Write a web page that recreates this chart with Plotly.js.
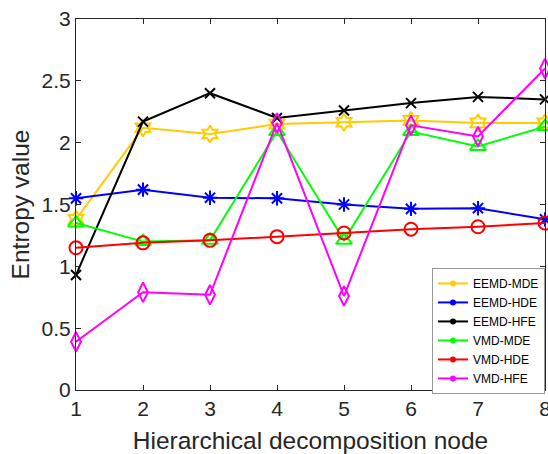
<!DOCTYPE html>
<html><head><meta charset="utf-8">
<script src="https://cdn.plot.ly/plotly-3.0.1.min.js"></script>
<style>html,body{margin:0;padding:0;background:#fff}#c{width:548px;height:454px}</style>
</head><body><div id="c"></div>
<script>
const nodes = [1, 2, 3, 4, 5, 6, 7, 8];
const seriesNames = ["EEMD-MDE", "EEMD-HDE", "EEMD-HFE", "VMD-MDE", "VMD-HDE", "VMD-HFE"];
const eemdMDE = [1.38, 2.12, 2.07, 2.15, 2.165, 2.18, 2.16, 2.16];
const eemdHDE = [1.55, 1.62, 1.555, 1.55, 1.50, 1.465, 1.47, 1.38];
const eemdHFE = [0.93, 2.17, 2.40, 2.20, 2.26, 2.32, 2.37, 2.35];
const vmdMDE = [1.35, 1.20, 1.21, 2.09, 1.21, 2.09, 1.97, 2.13];
const vmdHDE = [1.15, 1.19, 1.21, 1.24, 1.27, 1.30, 1.32, 1.35];
const vmdHFE = [0.39, 0.79, 0.77, 2.16, 0.76, 2.14, 2.05, 2.60];
const yTicks = [0, 0.5, 1, 1.5, 2, 2.5, 3];
const yTickText = ["0", "0.5", "1", "1.5", "2", "2.5", "3"];

const values = [eemdMDE, eemdHDE, eemdHFE, vmdMDE, vmdHDE, vmdHFE];
const colors = ["#FFCC00", "#0000FF", "#000000", "#00FF00", "#FF0000", "#FF00FF"];
const symbols = ["hexagram-open", "asterisk-open", "x-thin-open", "triangle-up-open", "circle-open", "diamond-tall-open"];
const sizes = [13, 12, 10, 14, 13, 14];

const traces = [];
values.forEach((v, i) => {
  traces.push({
    x: nodes, y: v, type: "scatter", mode: "lines+markers", showlegend: false,
    line: {color: colors[i], width: 2},
    marker: {symbol: symbols[i], size: sizes[i], color: colors[i], line: {color: colors[i], width: 2}},
    cliponaxis: false
  });
});
values.forEach((v, i) => {
  traces.push({
    x: [null], y: [null], type: "scatter", mode: "lines+markers", name: seriesNames[i],
    line: {color: colors[i], width: 2},
    marker: {symbol: "circle", size: 6, color: colors[i]}
  });
});

const layout = {
  width: 548, height: 454,
  margin: {l: 76, r: 3, t: 19, b: 64},
  paper_bgcolor: "#fff", plot_bgcolor: "#fff",
  font: {family: "Liberation Sans, Arial, sans-serif", color: "#262626"},
  xaxis: {
    range: [1, 8], tickvals: nodes, ticks: "inside", ticklen: 5, tickcolor: "#262626", automargin: false,
    ticklabeloverflow: "allow",
    showline: true, linecolor: "#262626", linewidth: 1, mirror: "ticks", showgrid: false, zeroline: false,
    tickfont: {size: 21, color: "#262626"},
    title: {text: "Hierarchical decomposition node", font: {size: 24.5, color: "#262626"}, standoff: 17}
  },
  yaxis: {
    range: [0, 3], tickvals: yTicks, ticktext: yTickText, ticks: "inside", ticklen: 5, tickcolor: "#262626", automargin: false,
    ticklabeloverflow: "allow",
    showline: true, linecolor: "#262626", linewidth: 1, mirror: "ticks", showgrid: false, zeroline: false,
    tickfont: {size: 21, color: "#262626"},
    title: {text: "Entropy value", font: {size: 24.5, color: "#262626"}, standoff: 5}
  },
  legend: {
    x: 1, y: 0.329, xanchor: "right", yanchor: "top",
    bgcolor: "#fff", bordercolor: "#999", borderwidth: 1,
    font: {size: 12, color: "#000"}, tracegroupgap: 0, itemwidth: 30
  }
};
Plotly.newPlot("c", traces, layout, {displayModeBar: false, staticPlot: true});
</script></body></html>
